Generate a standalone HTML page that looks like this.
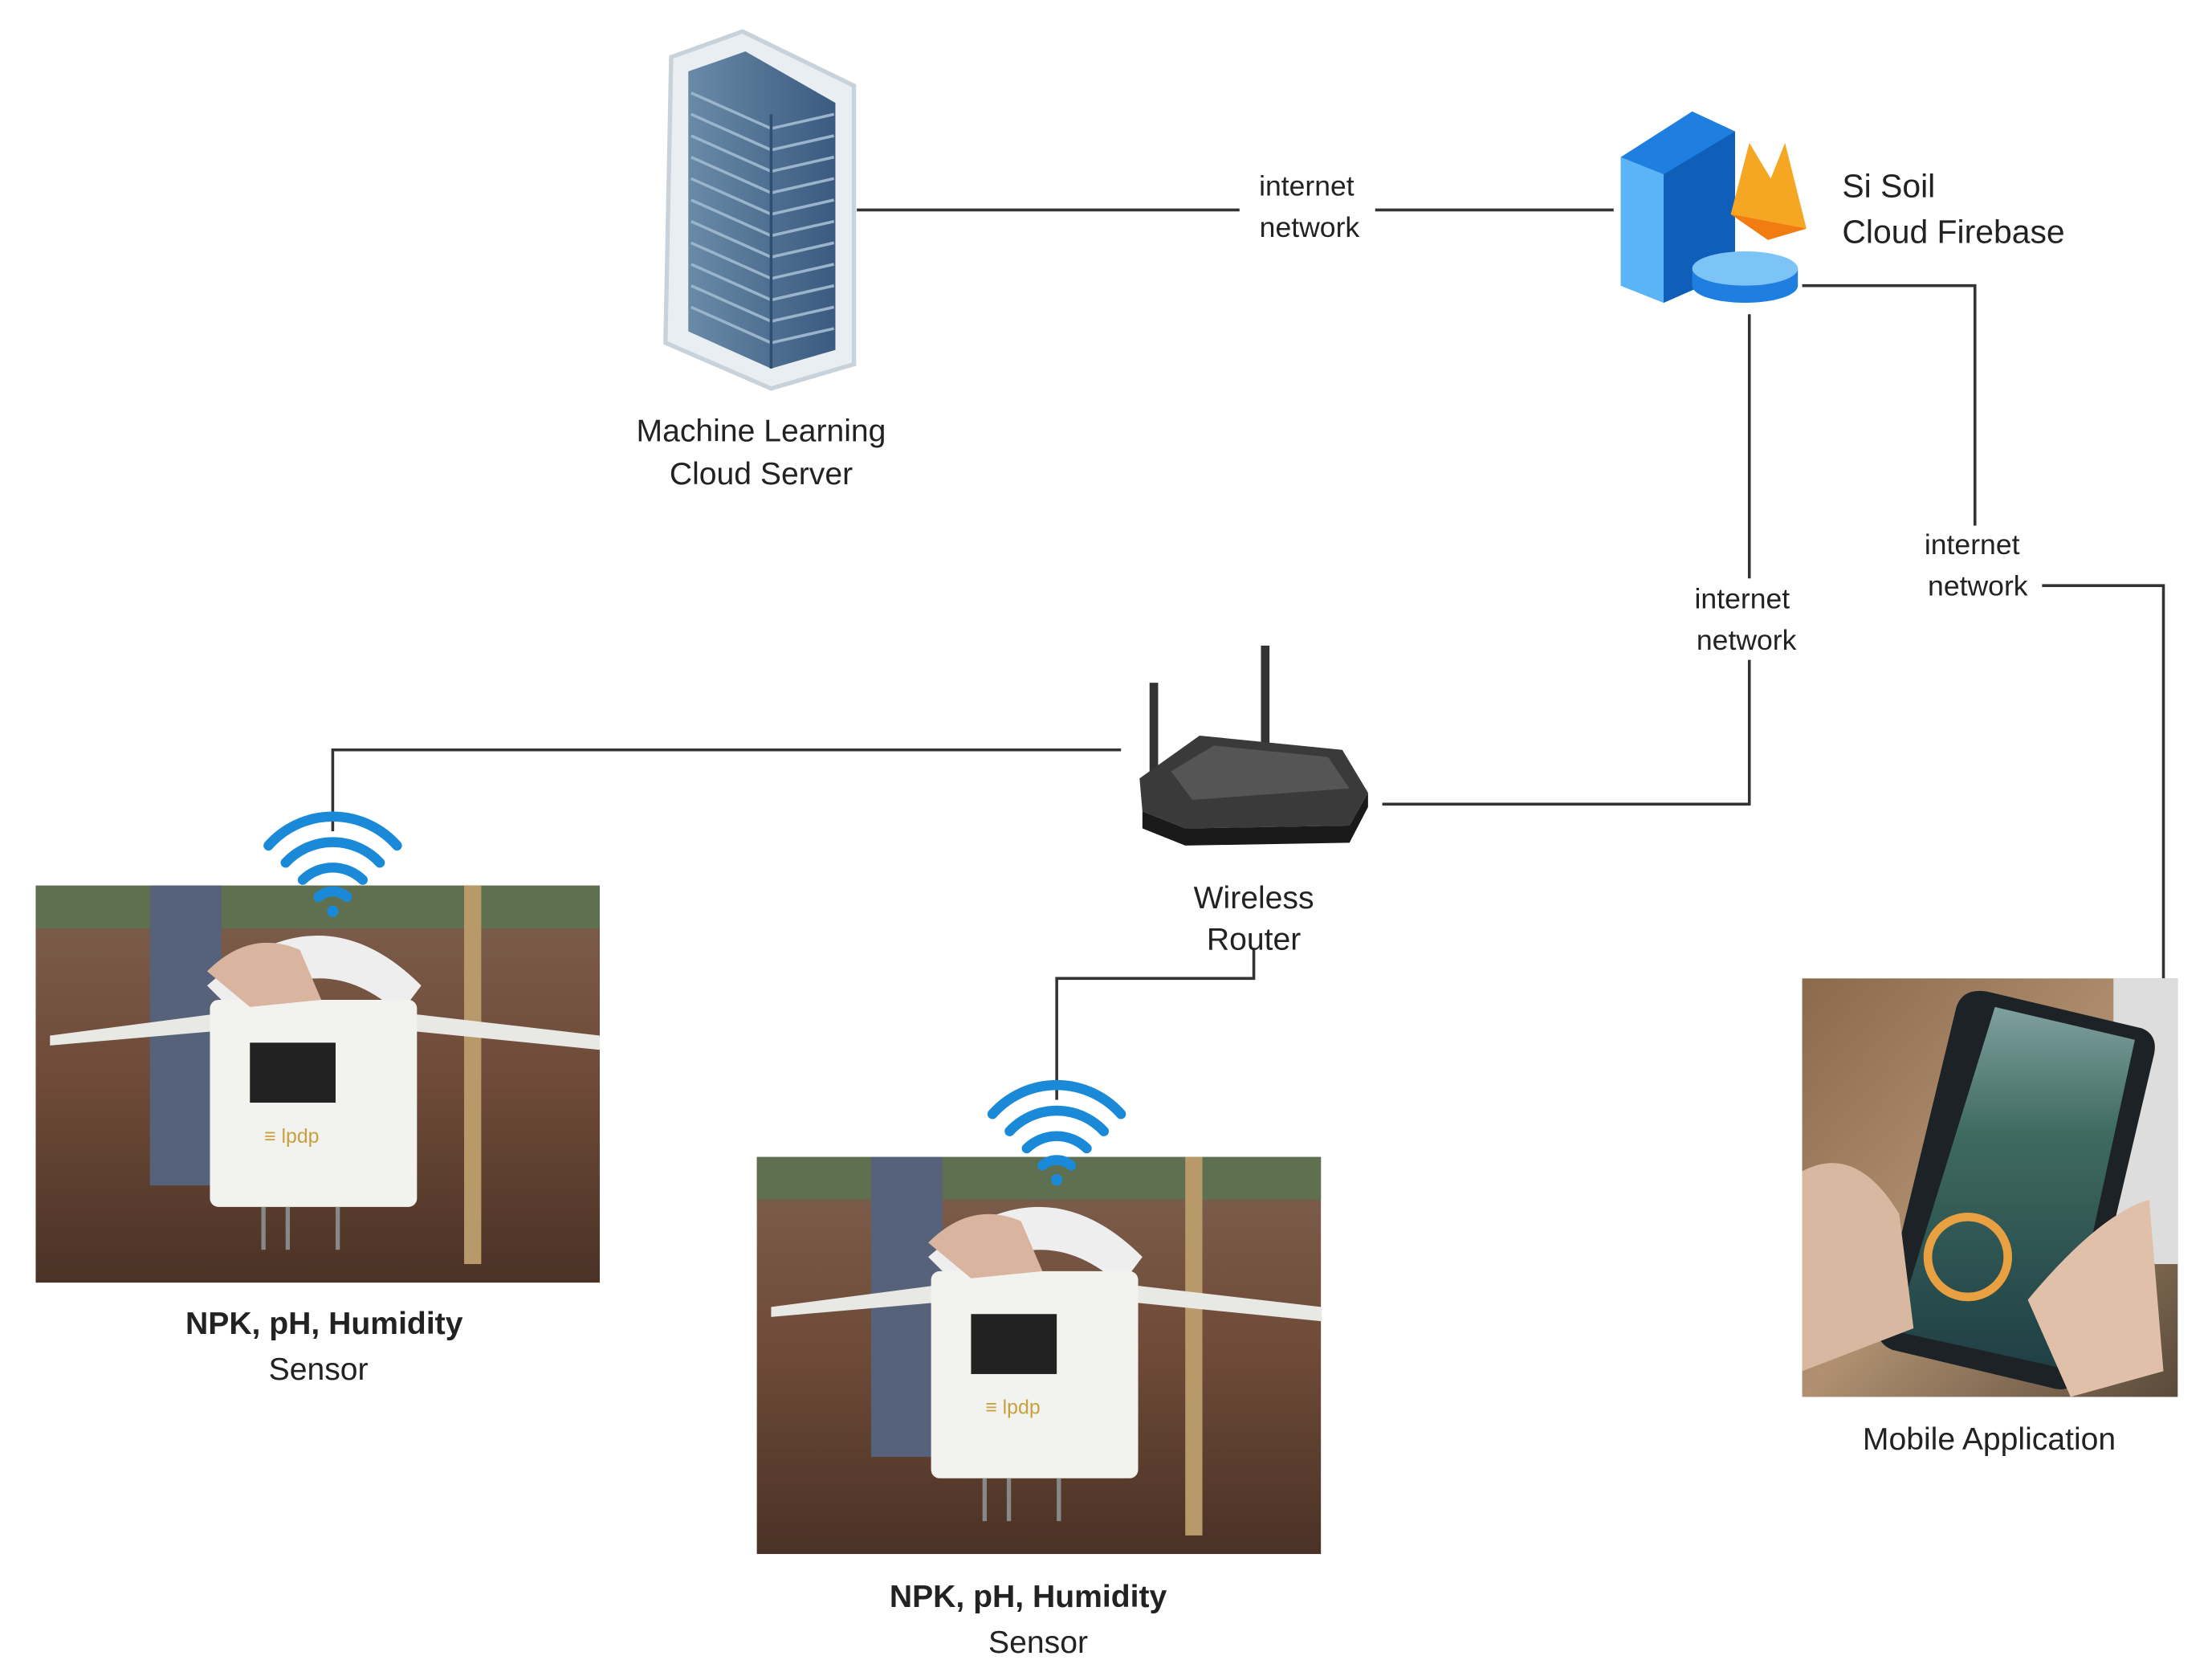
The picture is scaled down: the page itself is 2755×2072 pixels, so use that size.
<!DOCTYPE html>
<html><head><meta charset="utf-8"><style>
html,body{margin:0;padding:0;background:#fff}
svg{display:block}
text{font-family:"Liberation Sans",sans-serif;fill:#222}
</style></head><body>
<svg width="2755" height="2072" viewBox="0 0 1549 1165" preserveAspectRatio="none" xmlns="http://www.w3.org/2000/svg">
<defs>
<linearGradient id="soil" x1="0" y1="0" x2="0" y2="1">
<stop offset="0" stop-color="#5d6b4a"/><stop offset="0.12" stop-color="#7a5a48"/><stop offset="0.5" stop-color="#6e4a38"/><stop offset="1" stop-color="#4a3226"/></linearGradient>
<linearGradient id="phonebg" x1="0" y1="0" x2="1" y2="1">
<stop offset="0" stop-color="#8a6a4a"/><stop offset="0.5" stop-color="#b09070"/><stop offset="1" stop-color="#5a4a3a"/></linearGradient>
<linearGradient id="screen" x1="0" y1="0" x2="0" y2="1">
<stop offset="0" stop-color="#7fa0a0"/><stop offset="0.35" stop-color="#3e6a60"/><stop offset="1" stop-color="#1f3f44"/></linearGradient>
<linearGradient id="rack" x1="0" y1="0" x2="1" y2="0">
<stop offset="0" stop-color="#6a8aa8"/><stop offset="1" stop-color="#3a5a80"/></linearGradient>
<g id="sensor">
<rect x="0" y="0" width="395" height="278" fill="url(#soil)"/>
<rect x="0" y="0" width="395" height="30" fill="#5e7050"/>
<rect x="80" y="0" width="50" height="210" fill="#56617a"/>
<rect x="300" y="0" width="12" height="265" fill="#b89a6a"/>
<path d="M120 70 Q200 0 270 70 L255 90 Q200 40 140 90 Z" fill="#eee"/>
<path d="M10 105 L125 90 L125 102 L10 112 Z" fill="#e8e8e4"/>
<path d="M265 90 L395 105 L395 115 L265 102 Z" fill="#e8e8e4"/>
<rect x="122" y="80" width="145" height="145" rx="6" fill="#f2f2ee"/>
<rect x="150" y="110" width="60" height="42" fill="#222"/>
<text x="160" y="180" font-size="14" style="fill:#c9a040">≡ lpdp</text>
<rect x="158" y="225" width="3" height="30" fill="#888"/><rect x="175" y="225" width="3" height="30" fill="#888"/><rect x="210" y="225" width="3" height="30" fill="#888"/>
<path d="M120 60 Q150 30 185 45 L200 80 L150 85 Z" fill="#d9b5a0"/>
</g>
<g id="wifi" fill="none" stroke="#1a8ad8" stroke-width="7" stroke-linecap="round">
<path d="M-45 -8 A60 60 0 0 1 45 -8"/>
<path d="M-33 4 A45 45 0 0 1 33 4"/>
<path d="M-21 16 A30 30 0 0 1 21 16"/>
<path d="M-10 28 A15 15 0 0 1 10 28"/>
<circle cx="0" cy="38" r="4" fill="#1a8ad8" stroke="none"/>
</g>
</defs>
<rect width="1549" height="1165" fill="#fff"/>
<g stroke="#333" stroke-width="2" fill="none">
<path d="M600 147 H868"/><path d="M963 147 H1130"/>
<path d="M1262 200 H1383 V368"/>
<path d="M1430 410 H1515 V685"/>
<path d="M1225 220 V405"/>
<path d="M1225 462 V563 H968"/>
<path d="M785 525 H233 V582"/>
<path d="M878 665 V685 H740 V770"/>
</g>
<!-- server rack -->
<path d="M470 40 L520 22 L598 60 L598 255 L540 272 L466 240 Z" fill="#e9eef2" stroke="#c8d2da" stroke-width="3"/>
<path d="M482 50 L522 36 L585 72 L585 245 L540 258 L482 232 Z" fill="url(#rack)"/>
<g stroke="#9ab4cc" stroke-width="2" fill="none">
<path d="M484 65 L540 90 L584 80"/><path d="M484 80 L540 105 L584 95"/><path d="M484 95 L540 120 L584 110"/><path d="M484 110 L540 135 L584 125"/><path d="M484 125 L540 150 L584 140"/><path d="M484 140 L540 165 L584 155"/><path d="M484 155 L540 180 L584 170"/><path d="M484 170 L540 195 L584 185"/><path d="M484 185 L540 210 L584 200"/><path d="M484 200 L540 225 L584 215"/><path d="M484 215 L540 240 L584 230"/>
</g>
<path d="M540 80 V258" stroke="#2f4f70" stroke-width="2"/>
<text x="533" y="309" font-size="22" text-anchor="middle">Machine Learning</text>
<text x="533" y="339" font-size="22" text-anchor="middle">Cloud Server</text>
<text x="915" y="137" font-size="20" text-anchor="middle">internet</text>
<text x="917" y="166" font-size="20" text-anchor="middle">network</text>
<!-- firebase -->
<path d="M1135 110 L1185 78 L1215 92 L1215 190 L1165 212 L1135 200 Z" fill="#1e7fe0"/>
<path d="M1135 110 L1165 122 L1165 212 L1135 200 Z" fill="#5ab4f5"/>
<path d="M1165 122 L1215 92 L1215 190 L1165 212 Z" fill="#0f5fb8"/>
<path d="M1212 150 L1225 100 L1240 125 L1250 100 L1265 160 L1238 168 Z" fill="#f5a623"/>
<path d="M1212 150 L1238 168 L1265 160 Z" fill="#f07c12"/>
<ellipse cx="1222" cy="200" rx="37" ry="12" fill="#1e7fe0"/>
<rect x="1185" y="188" width="74" height="12" fill="#1e7fe0"/>
<ellipse cx="1222" cy="188" rx="37" ry="12" fill="#7cc4f5"/>
<text x="1290" y="138" font-size="23">Si Soil</text>
<text x="1290" y="170" font-size="23">Cloud Firebase</text>
<text x="1381" y="388" font-size="20" text-anchor="middle">internet</text>
<text x="1385" y="417" font-size="20" text-anchor="middle">network</text>
<text x="1220" y="426" font-size="20" text-anchor="middle">internet</text>
<text x="1223" y="455" font-size="20" text-anchor="middle">network</text>
<!-- router -->
<rect x="805" y="478" width="6" height="62" fill="#333"/>
<rect x="883" y="452" width="6" height="70" fill="#333"/>
<path d="M798 545 L840 515 L940 525 L958 555 L945 578 L830 580 L800 568 Z" fill="#3a3a3a"/>
<path d="M800 568 L830 580 L945 578 L958 555 L958 565 L945 590 L830 592 L800 580 Z" fill="#1a1a1a"/>
<path d="M820 540 L850 522 L930 530 L945 552 L835 560 Z" fill="#555"/>
<text x="878" y="636" font-size="22" text-anchor="middle">Wireless</text>
<text x="878" y="665" font-size="22" text-anchor="middle">Router</text>
<!-- sensors -->
<use href="#sensor" x="25" y="620"/>
<use href="#wifi" x="233" y="600"/>
<text x="227" y="934" font-size="22" font-weight="bold" text-anchor="middle">NPK, pH, Humidity</text>
<text x="223" y="966" font-size="22" text-anchor="middle">Sensor</text>
<use href="#sensor" x="530" y="810"/>
<use href="#wifi" x="740" y="788"/>
<text x="720" y="1125" font-size="22" font-weight="bold" text-anchor="middle">NPK, pH, Humidity</text>
<text x="727" y="1157" font-size="22" text-anchor="middle">Sensor</text>
<!-- phone photo -->
<rect x="1262" y="685" width="263" height="293" fill="url(#phonebg)"/>
<rect x="1480" y="685" width="45" height="200" fill="#ddd"/>
<path d="M1395 695 L1500 720 Q1512 725 1508 740 L1455 965 Q1450 975 1438 972 L1325 945 Q1313 940 1316 928 L1370 705 Q1375 690 1395 695 Z" fill="#1c2226"/>
<path d="M1397 705 L1495 728 L1445 958 L1327 932 Z" fill="url(#screen)"/>
<circle cx="1378" cy="880" r="28" fill="none" stroke="#e8a040" stroke-width="6"/>
<path d="M1262 820 Q1300 800 1330 850 L1340 930 L1262 960 Z" fill="#d8b8a0"/>
<path d="M1420 910 Q1470 850 1505 840 L1515 960 L1450 978 Z" fill="#e0c0a8"/>
<text x="1393" y="1015" font-size="22" text-anchor="middle">Mobile Application</text>
</svg>
</body></html>
